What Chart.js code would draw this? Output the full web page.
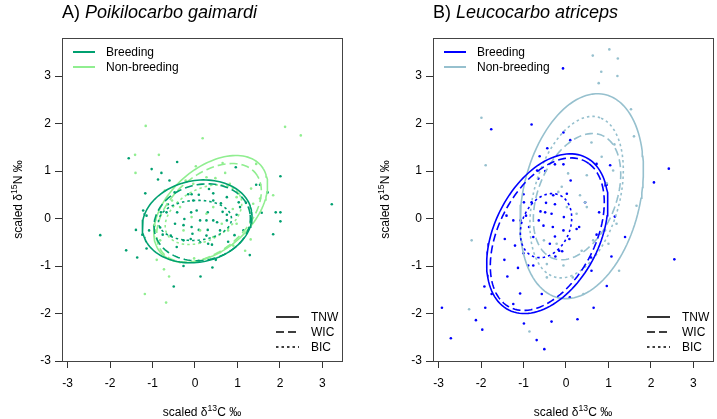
<!DOCTYPE html>
<html>
<head>
<meta charset="utf-8">
<script src="https://cdn.jsdelivr.net/npm/chart.js@4.4.1/dist/chart.umd.min.js"></script>
<style>
    body { margin: 0; background: #fff; }
    #wrap { position: relative; width: 717px; height: 419px; }
    canvas { position: absolute; top: 0; }
    #chartA { left: 0; }
    #chartB { left: 358px; }
</style>
</head>
<body>
<div id="wrap">
    <canvas id="chartA" width="358" height="419"></canvas>
    <canvas id="chartB" width="359" height="419"></canvas>
</div>
<script>
// ============================================
// Isotopic niche ellipses, two cormorant species
// ============================================

const tickValues = [-3, -2, -1, 0, 1, 2, 3];
const groupLabels = ['Breeding', 'Non-breeding'];
const ellipseLabels = ['TNW', 'WIC', 'BIC'];

// --- A) Poikilocarbo gaimardi ---
const gaimBreedX = [-1.56,-1.02,-0.42,-0.79,-0.87,-0.60,-1.17,0.96,2.01,1.44,1.53,1.71,3.22,1.90,2.01,2.01,-2.23,-1.39,-1.24,-1.62,-1.36,-1.14,1.84,1.29,0.13,-0.50,0.41,-0.27,0.49,0.09,1.57,
    -0.80,-0.67,-0.42,-0.09,0.30,0.61,0.65,0.75,-0.64,-0.08,0.09,0.33,0.43,-0.25,0.12,0.27,0.43,0.75,-0.47,-0.27,-0.08,0.09,0.30,0.52,-0.82,-0.76,-0.57,-0.10,0.12,0.31,0.40,0.78,0.93,0.59,1.06,1.03,-0.48,-0.16,-0.94,-0.96,-1.08,-1.22,-1.14,-0.04,0.04,0.98,-0.27,-0.43,-0.06,0.27,0.43,0.75,1.20,1.14];
const gaimBreedY = [1.27,1.04,1.19,0.96,0.82,0.80,0.53,1.08,0.89,0.71,0.71,0.55,0.30,0.13,0.13,-0.06,-0.35,-0.24,-0.34,-0.67,-0.82,-0.63,-0.33,-0.77,-1.22,-1.43,-1.03,-1.00,-0.87,-0.89,0.12,
    0.13,0.13,0.13,0.13,0.13,0.32,0.14,0.08,0.30,0.51,0.50,0.62,0.53,-0.01,-0.04,-0.04,-0.04,-0.04,-0.11,-0.14,-0.18,-0.24,-0.24,-0.08,-0.19,-0.34,-0.36,-0.43,-0.50,-0.53,-0.55,-0.49,-0.35,-0.25,0.24,0.34,0.55,0.51,-0.03,-0.15,-0.25,0.17,0.06,0.38,0.17,0.08,-0.46,-0.60,-0.32,-0.36,0.38,0.45,0.33,-0.25];
const gaimNonX = [0.18,2.49,-1.41,-0.85,-1.40,-1.16,2.12,0.65,0.02,0.48,0.71,1.44,1.84,-0.22,0.27,0.82,1.03,0.89,1.31,1.18,-0.90,-0.61,-0.73,-1.18,-0.68,-0.35,-0.02,0.59,0.90,0.78,0.63,-0.08,-0.35,-0.54,-0.27,0.12,0.27,0.43,-0.04,-0.71,-0.94,-0.82,0.43,0.98,1.37,0.98,1.53,1.32];
const gaimNonY = [1.69,1.75,1.34,1.34,0.96,1.95,1.93,1.17,1.10,0.85,0.96,1.15,0.49,0.80,0.87,0.73,0.52,0.20,-0.44,-0.68,-0.87,-1.22,-1.07,-1.59,-1.77,-0.92,-0.84,-0.71,-0.57,-0.25,-0.11,0.03,0.24,0.38,-0.25,-0.25,0.10,0.24,0.73,0.59,-0.25,-0.46,-0.39,-0.11,0.31,0.45,0.42,0.63];
// ellipses: [centre x, centre y, semi-axis a, semi-axis b, angle (rad)] for TNW, WIC, BIC
const gaimBreedEll = [[0.05,-0.06,1.30,0.86,0.15],[0.17,-0.08,1.14,0.80,0.15],[0.00,-0.04,0.86,0.42,0.05]];
const gaimNonEll = [[0.37,0.20,1.50,0.90,0.60],[0.33,0.12,1.38,0.83,0.60],[0.20,0.08,0.95,0.55,0.40]];

// --- B) Leucocarbo atriceps ---
const atriBreedX = [-0.07,-1.76,-0.81,-0.06,0.10,-0.44,-0.62,-0.26,-0.49,-0.06,1.04,2.42,2.07,0.11,-0.30,0.02,-1.00,
    -2.92,-2.12,-1.92,-1.90,-1.75,-1.40,-1.44,-1.45,-1.38,-1.13,-1.08,-1.24,-0.99,-1.24,-1.07,-1.20,-1.00,-0.89,-0.77,-0.99,-0.81,-0.94,-0.87,-0.77,-0.65,-0.68,
    -0.26,-0.47,-0.60,-0.49,-0.34,-0.64,-0.53,-0.31,-0.26,-0.38,-0.16,-0.25,-0.09,-0.05,-0.06,0.08,0.25,0.31,0.45,0.72,0.78,0.72,0.59,0.60,0.96,1.07,1.39,1.15,2.55,0.96,0.65,0.27,-0.34,-0.57,0.09,-1.97,-2.71,-0.69,-0.51];
const atriBreedY = [3.16,1.88,1.98,1.81,1.65,1.48,1.31,1.14,1.00,1.14,1.12,1.05,0.76,0.80,0.49,0.52,0.51,
    -1.88,-2.14,-1.43,-1.88,-1.59,0.06,-0.43,-0.87,-1.22,-1.04,-1.58,-1.80,-2.21,-0.04,-0.04,-0.57,-0.73,-0.99,-0.99,0.34,0.34,0.06,-0.18,-0.39,0.84,1.01,
    0.30,0.33,0.15,0.13,0.10,-0.04,-0.15,-0.18,-0.38,-0.53,-0.68,-0.80,-0.69,0.03,-0.25,-0.43,-0.22,-0.18,0.34,1.15,0.13,-0.34,-0.82,-1.10,0.71,-0.80,-0.39,0.04,-0.86,-1.42,-1.88,-2.12,-2.17,-1.59,-1.66,-2.34,-2.52,-2.56,-2.75];
const atriNonX = [0.63,1.02,1.22,0.83,1.21,0.77,-1.99,1.53,1.60,-1.89,0.60,0.84,1.14,0.05,0.49,0.96,-0.10,0.33,-2.22,-2.28,1.25,1.11,1.66,-0.06,0.41,0.16,-0.45,-0.18,0.02,0.25,0.49,0.64,0.92,1.00,1.19,-0.45,-0.22,-0.52,0.37,-0.86,0.45];
const atriNonY = [3.43,3.56,3.37,3.09,3.00,2.85,2.12,2.30,1.73,1.12,1.60,1.30,1.56,0.95,0.91,0.74,0.67,0.49,-0.46,-1.91,-1.10,1.01,0.27,-0.99,-1.59,-1.24,-1.24,0.56,0.24,0.10,0.24,-0.46,-0.25,-0.53,-0.11,-0.96,-0.53,-0.46,-0.68,-2.38,0.34];
const atriBreedEll = [[-0.44,-0.32,1.85,1.20,0.99],[-0.44,-0.33,1.78,1.10,0.99],[-0.47,-0.15,0.72,0.55,1.00]];
const atriNonEll = [[0.37,0.47,2.21,1.37,1.29],[0.26,0.46,1.42,0.90,1.10],[0.25,0.45,1.76,1.00,1.25]];

const FONT = '"Liberation Sans", Arial, sans-serif';
const dashStyles = [[], [8, 4], [2.5, 3]];

function ellipsePoints(e) {
    const [cx, cy, a, b, th] = e;
    const pts = [];
    for (let i = 0; i <= 120; i++) {
        const t = i / 120 * Math.PI * 2;
        pts.push({
            x: cx + a * Math.cos(t) * Math.cos(th) - b * Math.sin(t) * Math.sin(th),
            y: cy + a * Math.cos(t) * Math.sin(th) + b * Math.sin(t) * Math.cos(th)
        });
    }
    return pts;
}

function drawRich(ctx, parts, x, y, size, align) {
    const widths = parts.map(p => {
        ctx.font = (p.italic ? 'italic ' : '') + (p.sup ? size * 0.72 : size) + 'px ' + FONT;
        return ctx.measureText(p.t).width;
    });
    const total = widths.reduce((s, w) => s + w, 0);
    let cx = align === 'center' ? x - total / 2 : x;
    ctx.textAlign = 'left';
    ctx.textBaseline = 'alphabetic';
    parts.forEach((p, i) => {
        ctx.font = (p.italic ? 'italic ' : '') + (p.sup ? size * 0.72 : size) + 'px ' + FONT;
        ctx.fillText(p.t, cx, p.sup ? y - size * 0.42 : y);
        cx += widths[i];
    });
}

const panelDecor = {
    id: 'panelDecor',
    afterDraw(chart, args, opts) {
        const { ctx, chartArea: a } = chart;
        ctx.save();
        ctx.strokeStyle = '#444';
        ctx.lineWidth = 1;
        ctx.strokeRect(a.left + 0.5, a.top + 0.5, a.right - a.left, a.bottom - a.top);
        ctx.fillStyle = '#000';

        drawRich(ctx, [{ t: opts.letter + ') ' }, { t: opts.species, italic: true }], a.left, 18, 18, 'left');
        drawRich(ctx, [{ t: 'scaled δ' }, { t: '13', sup: true }, { t: 'C ‰' }], (a.left + a.right) / 2, 416, 12, 'center');

        ctx.save();
        ctx.translate(opts.yTitleX, (a.top + a.bottom) / 2);
        ctx.rotate(-Math.PI / 2);
        drawRich(ctx, [{ t: 'scaled δ' }, { t: '15', sup: true }, { t: 'N ‰' }], 0, 0, 12, 'center');
        ctx.restore();

        // colour legend, top left
        ctx.font = '12px ' + FONT;
        ctx.textBaseline = 'middle';
        ctx.textAlign = 'left';
        opts.colors.forEach((c, i) => {
            const y = 52 + i * 15;
            ctx.strokeStyle = c;
            ctx.lineWidth = 2;
            ctx.beginPath(); ctx.moveTo(a.left + 11, y); ctx.lineTo(a.left + 33, y); ctx.stroke();
            ctx.fillStyle = '#000';
            ctx.fillText(groupLabels[i], a.left + 44, y + 1);
        });

        // line type legend, bottom right
        ellipseLabels.forEach((lab, i) => {
            const y = 317 + i * 15;
            ctx.strokeStyle = '#000';
            ctx.lineWidth = 1.6;
            ctx.setLineDash(dashStyles[i]);
            ctx.beginPath(); ctx.moveTo(a.right - 66, y); ctx.lineTo(a.right - 43, y); ctx.stroke();
            ctx.setLineDash([]);
            ctx.fillStyle = '#000';
            ctx.fillText(lab, a.right - 31, y + 1);
        });
        ctx.restore();
    }
};

function buildDatasets(breedX, breedY, nonX, nonY, breedEll, nonEll, colors) {
    const sets = [];
    [[breedX, breedY], [nonX, nonY]].forEach(([xs, ys], g) => {
        sets.push({
            label: groupLabels[g],
            data: xs.map((x, i) => ({ x: x, y: ys[i] })),
            backgroundColor: colors[g],
            borderColor: colors[g],
            pointRadius: 1.3,
            pointBorderWidth: 0,
            showLine: false,
            order: 3 - g
        });
    });
    [breedEll, nonEll].forEach((ells, g) => {
        ells.forEach((e, k) => {
            sets.push({
                label: groupLabels[g] + ' ' + ellipseLabels[k],
                data: ellipsePoints(e),
                borderColor: colors[g],
                borderWidth: 1.6,
                borderDash: dashStyles[k],
                pointRadius: 0,
                showLine: true,
                tension: 0,
                fill: false,
                order: g === 0 ? 0 : 1
            });
        });
    });
    return sets;
}

function axisOptions(isX, yWidth) {
    return {
        type: 'linear',
        min: isX ? -3.13 : -3,
        max: isX ? 3.46 : 3.8,
        afterBuildTicks: axis => { axis.ticks = tickValues.map(v => ({ value: v })); },
        afterFit: scale => { if (isX) scale.height = 58; else scale.width = yWidth; },
        grid: { drawOnChartArea: false, drawTicks: true, tickLength: 7, color: '#333' },
        border: { display: false },
        ticks: { color: '#000', padding: isX ? 8 : 4, font: { family: FONT, size: 12 }, autoSkip: false, maxRotation: 0 }
    };
}

function makePanel(canvasId, cfg) {
    return new Chart(document.getElementById(canvasId), {
        type: 'scatter',
        data: { datasets: buildDatasets(cfg.bx, cfg.by, cfg.nx, cfg.ny, cfg.be, cfg.ne, cfg.colors) },
        options: {
            responsive: false,
            animation: false,
            layout: { padding: { top: 38, right: cfg.padRight, left: 0, bottom: 0 } },
            plugins: {
                legend: { display: false },
                tooltip: { enabled: false },
                panelDecor: { letter: cfg.letter, species: cfg.species, colors: cfg.colors, yTitleX: cfg.yTitleX }
            },
            scales: { x: axisOptions(true), y: axisOptions(false, cfg.yWidth) }
        },
        plugins: [panelDecor]
    });
}

makePanel('chartA', {
    letter: 'A', species: 'Poikilocarbo gaimardi',
    bx: gaimBreedX, by: gaimBreedY, nx: gaimNonX, ny: gaimNonY, be: gaimBreedEll, ne: gaimNonEll,
    colors: ['#00A070', '#90EE90'], yWidth: 62, padRight: 16, yTitleX: 22
});

makePanel('chartB', {
    letter: 'B', species: 'Leucocarbo atriceps',
    bx: atriBreedX, by: atriBreedY, nx: atriNonX, ny: atriNonY, be: atriBreedEll, ne: atriNonEll,
    colors: ['#0000FF', '#96C0CE'], yWidth: 75, padRight: 4, yTitleX: 31
});
</script>
</body>
</html>
